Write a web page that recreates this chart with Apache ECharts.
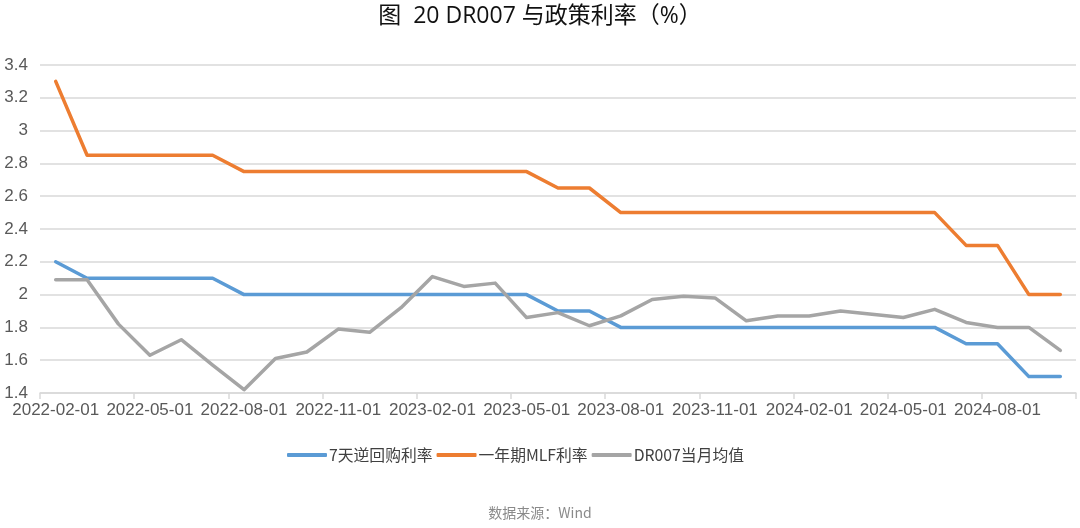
<!DOCTYPE html>
<html>
<head>
<meta charset="utf-8">
<script src="https://cdn.jsdelivr.net/npm/echarts@6/dist/echarts.min.js"></script>
<style>
html,body{margin:0;padding:0;background:#fff;}
#chart{width:1080px;height:528px;}
</style>
</head>
<body>
<div id="chart"></div>
<script>
const categories = [
  '2022-02-01','2022-03-01','2022-04-01','2022-05-01','2022-06-01','2022-07-01',
  '2022-08-01','2022-09-01','2022-10-01','2022-11-01','2022-12-01','2023-01-01',
  '2023-02-01','2023-03-01','2023-04-01','2023-05-01','2023-06-01','2023-07-01',
  '2023-08-01','2023-09-01','2023-10-01','2023-11-01','2023-12-01','2024-01-01',
  '2024-02-01','2024-03-01','2024-04-01','2024-05-01','2024-06-01','2024-07-01',
  '2024-08-01','2024-09-01','2024-10-01'
];
const reverseRepo7d = [2.2,2.1,2.1,2.1,2.1,2.1,2.0,2.0,2.0,2.0,2.0,2.0,2.0,2.0,2.0,2.0,1.9,1.9,1.8,1.8,1.8,1.8,1.8,1.8,1.8,1.8,1.8,1.8,1.8,1.7,1.7,1.5,1.5];
const mlf1y = [3.3,2.85,2.85,2.85,2.85,2.85,2.75,2.75,2.75,2.75,2.75,2.75,2.75,2.75,2.75,2.75,2.65,2.65,2.5,2.5,2.5,2.5,2.5,2.5,2.5,2.5,2.5,2.5,2.5,2.3,2.3,2.0,2.0];
const dr007 = [2.09,2.09,1.82,1.63,1.725,1.57,1.42,1.61,1.65,1.79,1.77,1.92,2.11,2.05,2.07,1.86,1.89,1.81,1.87,1.97,1.99,1.98,1.84,1.87,1.87,1.90,1.88,1.86,1.91,1.83,1.80,1.80,1.66];
const seriesNames = ['7天逆回购利率','一年期MLF利率','DR007当月均值'];
const titleText = '图  20 DR007 与政策利率（%）';
const sourceText = '数据来源：Wind';

const chart = echarts.init(document.getElementById('chart'));
const lineStyle = (c) => ({ color: c, width: 3.5, cap: 'round', join: 'round' });
chart.setOption({
  animation: false,
  backgroundColor: '#ffffff',
  title: [{
    text: titleText, left: 'center', top: 0,
    textStyle: { fontFamily: 'Open Sans, Noto Sans CJK SC', fontSize: 23, fontWeight: 'normal', color: '#111' }
  }, {
    text: sourceText, left: 'center', top: 501,
    textStyle: { fontFamily: 'Noto Sans CJK SC', fontSize: 14, fontWeight: 'normal', color: '#8a8a8a' }
  }],
  legend: {
    top: 442, left: 282, itemGap: 4, itemWidth: 40, itemHeight: 4,
    icon: 'roundRect',
    textStyle: { fontFamily: 'Noto Sans CJK SC', fontSize: 15.8, color: '#404040', padding: [0,0,0,-3] },
    data: seriesNames
  },
  grid: { left: 40, right: 4, top: 65, bottom: 135, containLabel: false },
  xAxis: {
    type: 'category', data: categories, boundaryGap: true,
    axisLine: { lineStyle: { color: '#d9d9d9', width: 1.5 } },
    axisTick: { show: true, interval: 2, length: 6, lineStyle: { color: '#d9d9d9', width: 1.5 } },
    axisLabel: { interval: 2, fontFamily: 'Liberation Sans', fontSize: 17, color: '#595959', margin: 9 },
    splitLine: { show: false }
  },
  yAxis: {
    type: 'value', min: 1.4, max: 3.4, interval: 0.2,
    axisLine: { show: false }, axisTick: { show: false },
    axisLabel: { fontFamily: 'Liberation Sans', fontSize: 17, color: '#595959', margin: 12,
      formatter: v => String(+v.toFixed(1)) },
    splitLine: { lineStyle: { color: '#d9d9d9', width: 1.5 } }
  },
  series: [
    { name: seriesNames[0], type: 'line', data: reverseRepo7d, symbol: 'none', color: '#5b9bd5', lineStyle: lineStyle('#5b9bd5'), z: 3 },
    { name: seriesNames[1], type: 'line', data: mlf1y, symbol: 'none', color: '#ed7d31', lineStyle: lineStyle('#ed7d31'), z: 3 },
    { name: seriesNames[2], type: 'line', data: dr007, symbol: 'none', color: '#a5a5a5', lineStyle: lineStyle('#a5a5a5'), z: 4 }
  ]
});
</script>
</body>
</html>
